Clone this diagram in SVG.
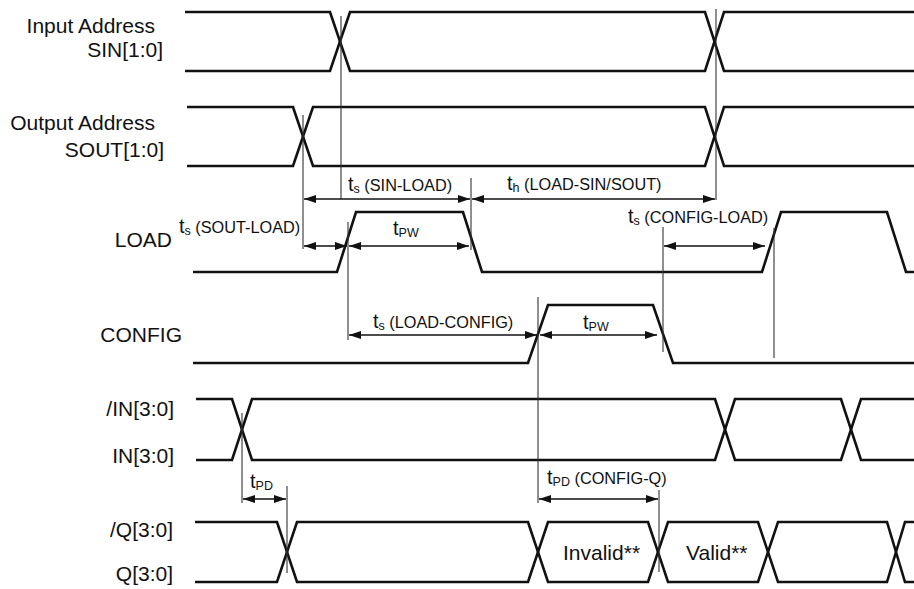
<svg xmlns="http://www.w3.org/2000/svg" width="914" height="589" viewBox="0 0 914 589">
<defs>
<style>
.sig{fill:none;stroke:#111;stroke-width:2.6;stroke-linejoin:miter}
.ref{fill:none;stroke:#333;stroke-width:1.1}
.arr{fill:none;stroke:#111;stroke-width:1.3;marker-start:url(#ah);marker-end:url(#ah)}
.lbl{font-family:"Liberation Sans",Arial,sans-serif;font-size:21px;fill:#111}
.tm{font-family:"Liberation Sans",Arial,sans-serif;font-size:20px;fill:#111}
.sb{font-size:12.5px}
.pr{font-size:16.3px}
</style>
<marker id="ah" viewBox="0 0 12 8" refX="12" refY="4" markerWidth="12" markerHeight="8" markerUnits="userSpaceOnUse" orient="auto-start-reverse">
<path d="M0,0 L12,4 L0,8 Z" fill="#111"/>
</marker>
</defs>
<rect width="914" height="589" fill="#fff"/>

<g id="sin">
<text class="lbl" x="155" y="33" text-anchor="end">Input Address</text>
<text class="lbl" x="163" y="57" text-anchor="end">SIN[1:0]</text>
<polyline class="sig" points="185,12 330,12 350,71 705,71 724,12 914,12"/>
<polyline class="sig" points="185,71 330,71 350,12 705,12 724,71 914,71"/>
</g>

<g id="sout">
<text class="lbl" x="155" y="130" text-anchor="end">Output Address</text>
<text class="lbl" x="164" y="157" text-anchor="end">SOUT[1:0]</text>
<polyline class="sig" points="187,107 293,107 313,166 705,166 724,107 914,107"/>
<polyline class="sig" points="187,166 293,166 313,107 705,107 724,166 914,166"/>
</g>

<g id="load">
<text class="lbl" x="172" y="247" text-anchor="end">LOAD</text>
<polyline class="sig" points="193,272 337,272 356,212 463,212 482,272 762,272 781,212 887,212 906,272 914,272"/>
</g>

<g id="config">
<text class="lbl" x="182" y="342" text-anchor="end">CONFIG</text>
<polyline class="sig" points="193,363 528,363 548,305 653,305 673,363 914,363"/>
</g>

<g id="in">
<text class="lbl" x="174" y="416" text-anchor="end">/IN[3:0]</text>
<text class="lbl" x="174" y="463" text-anchor="end">IN[3:0]</text>
<polyline class="sig" points="196,399 232,399 252,460 715,460 735,399 841,399 861,460 914,460"/>
<polyline class="sig" points="196,460 232,460 252,399 715,399 735,460 841,460 861,399 914,399"/>
</g>

<g id="q">
<text class="lbl" x="173" y="537" text-anchor="end">/Q[3:0]</text>
<text class="lbl" x="173" y="581" text-anchor="end">Q[3:0]</text>
<polyline class="sig" points="195,522 277,522 297,582 528,582 548,522 648,522 668,582 758,582 778,522 887,522 905,582 914,582"/>
<polyline class="sig" points="195,582 277,582 297,522 528,522 548,582 648,582 668,522 758,522 778,582 887,582 905,522 914,522"/>
<text class="lbl" x="563" y="560">Invalid**</text>
<text class="lbl" x="686" y="560">Valid**</text>
</g>

<g id="connectors">
<line class="ref" x1="341" y1="16" x2="341" y2="199"/>
<line class="ref" x1="303" y1="115" x2="303" y2="249"/>
<line class="ref" x1="716" y1="9" x2="716" y2="200"/>
<line class="ref" x1="471" y1="178" x2="471" y2="250"/>
<line class="ref" x1="348" y1="222" x2="348" y2="340"/>
<line class="ref" x1="663" y1="227" x2="663" y2="352"/>
<line class="ref" x1="774" y1="228" x2="774" y2="358"/>
<line class="ref" x1="538" y1="297" x2="538" y2="503"/>
<line class="ref" x1="242" y1="413" x2="242" y2="503"/>
<line class="ref" x1="287" y1="486" x2="287" y2="573"/>
<line class="ref" x1="659" y1="490" x2="659" y2="572"/>

<line class="arr" x1="304" y1="199" x2="470" y2="199"/>
<line class="arr" x1="472" y1="199" x2="715" y2="199"/>
<line class="arr" x1="304" y1="246" x2="347" y2="246"/>
<line class="arr" x1="349" y1="246" x2="469" y2="246"/>
<line class="arr" x1="664" y1="246" x2="765" y2="246"/>
<line class="arr" x1="349" y1="335" x2="537" y2="335"/>
<line class="arr" x1="540" y1="335" x2="657" y2="335"/>
<line class="arr" x1="243" y1="499" x2="286" y2="499"/>
<line class="arr" x1="539" y1="499" x2="658" y2="499"/>

<text class="tm" x="348" y="191">t<tspan class="sb" dy="2">s</tspan><tspan class="pr" dy="-2"> (SIN-LOAD)</tspan></text>
<text class="tm" x="507" y="190">t<tspan class="sb" dy="2">h</tspan><tspan class="pr" dy="-2"> (LOAD-SIN/SOUT)</tspan></text>
<text class="tm" x="179" y="233">t<tspan class="sb" dy="2">s</tspan><tspan class="pr" dy="-2"> (SOUT-LOAD)</tspan></text>
<text class="tm" x="393" y="235">t<tspan class="sb" dy="2">PW</tspan></text>
<text class="tm" x="628" y="223">t<tspan class="sb" dy="2">s</tspan><tspan class="pr" dy="-2"> (CONFIG-LOAD)</tspan></text>
<text class="tm" x="373" y="328">t<tspan class="sb" dy="2">s</tspan><tspan class="pr" dy="-2"> (LOAD-CONFIG)</tspan></text>
<text class="tm" x="583" y="329">t<tspan class="sb" dy="2">PW</tspan></text>
<text class="tm" x="250" y="488">t<tspan class="sb" dy="2">PD</tspan></text>
<text class="tm" x="547" y="484">t<tspan class="sb" dy="2">PD</tspan><tspan class="pr" dy="-2"> (CONFIG-Q)</tspan></text>
</g>
</svg>
